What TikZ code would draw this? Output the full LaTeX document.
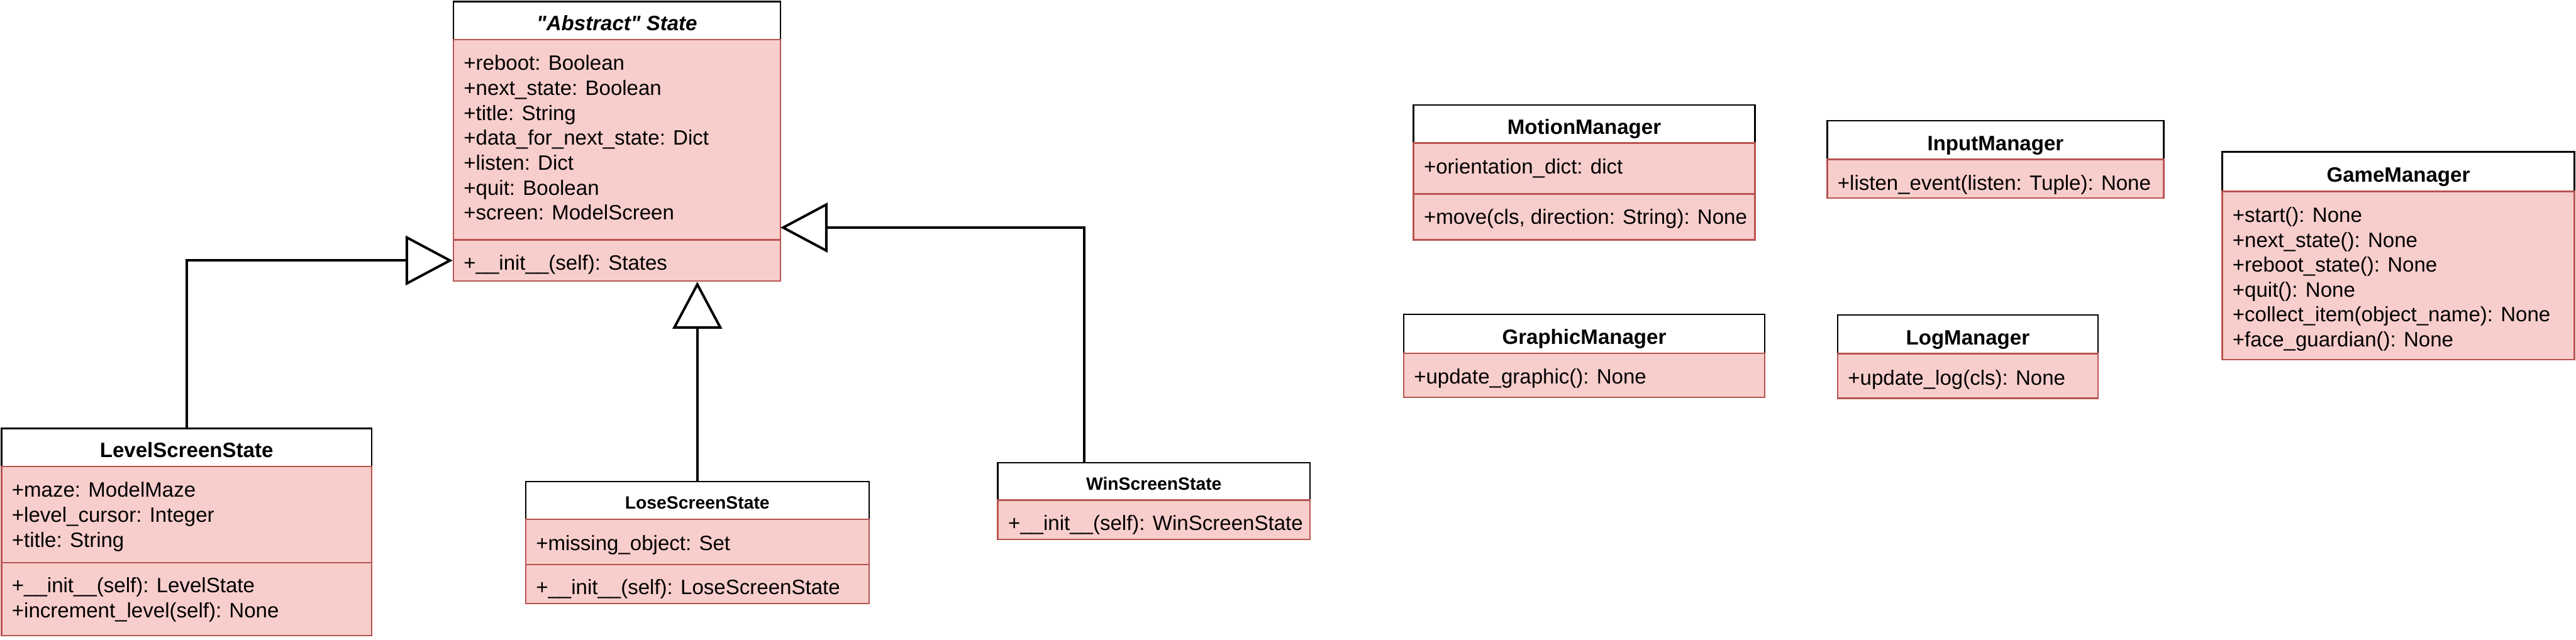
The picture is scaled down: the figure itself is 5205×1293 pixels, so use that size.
\documentclass[tikz,border=0pt]{standalone}
\usepackage{fontspec}
\setmainfont{Liberation Sans}[Ligatures=TeXOff]
\usetikzlibrary{arrows.meta,fit}
\definecolor{umlred}{HTML}{B85450}
\definecolor{umlpink}{HTML}{F8CECC}
\tikzset{
  hdr/.style={draw=black, fill=white, line width=0.6pt, inner sep=0pt},
  cmp/.style={draw=umlred, fill=umlpink, line width=0.6pt, inner sep=0pt},
  ttl/.style={font=\fontsize{8.4}{10.08}\selectfont\bfseries, anchor=base, inner sep=0pt},
  ttls/.style={font=\fontsize{7.2}{8.64}\selectfont\bfseries, anchor=base, inner sep=0pt},
  itm/.style={font=\fontsize{8.4}{10.08}\selectfont, anchor=base west, inner sep=0pt},
  gen/.style={line width=1pt, -{Triangle[open, length=19pt, width=20pt]}},
}
\begin{document}
\begin{tikzpicture}[x=0.2pt, y=-0.2pt]
\useasboundingbox (0,0) rectangle (5205,1293);

% ---------- "Abstract" State ----------
\node[hdr, fit={(916,3) (1577,80)}] (absH) {};
\node[cmp, fit={(916,80) (1577,485)}] (absA) {};
\node[cmp, fit={(916,485) (1577,568)}] (absM) {};
\node[ttl] (absT) at (1246.5,62) {\textit{"Abstract" State}};
\node[itm] (absA1) at (936,142) {+reboot: Boolean};
\node[itm] (absA2) at (936,192.4) {+next\_state: Boolean};
\node[itm] (absA3) at (936,242.8) {+title: String};
\node[itm] (absA4) at (936,293.2) {+data\_for\_next\_state: Dict};
\node[itm] (absA5) at (936,343.6) {+listen: Dict};
\node[itm] (absA6) at (936,394) {+quit: Boolean};
\node[itm] (absA7) at (936,444.4) {+screen: ModelScreen};
\node[itm] (absM1) at (936,546) {+\_\_init\_\_(self): States};

% ---------- LevelScreenState ----------
\node[hdr, fit={(3,866) (751,943)}] (lvlH) {};
\node[cmp, fit={(3,943) (751,1137)}] (lvlA) {};
\node[cmp, fit={(3,1137) (751,1285)}] (lvlM) {};
\node[ttl] (lvlT) at (377,925) {LevelScreenState};
\node[itm] (lvlA1) at (23,1005) {+maze: ModelMaze};
\node[itm] (lvlA2) at (23,1055.4) {+level\_cursor: Integer};
\node[itm] (lvlA3) at (23,1105.8) {+title: String};
\node[itm] (lvlM1) at (23,1198) {+\_\_init\_\_(self): LevelState};
\node[itm] (lvlM2) at (23,1248.4) {+increment\_level(self): None};

% ---------- LoseScreenState ----------
\node[hdr, fit={(1062,973) (1756,1050)}] (loseH) {};
\node[cmp, fit={(1062,1050) (1756,1141)}] (loseA) {};
\node[cmp, fit={(1062,1141) (1756,1220)}] (loseM) {};
\node[ttls] (loseT) at (1409,1028.5) {LoseScreenState};
\node[itm] (loseA1) at (1082,1112) {+missing\_object: Set};
\node[itm] (loseM1) at (1082,1201) {+\_\_init\_\_(self): LoseScreenState};

% ---------- WinScreenState ----------
\node[hdr, fit={(2016,935) (2647,1011)}] (winH) {};
\node[cmp, fit={(2016,1011) (2647,1090)}] (winM) {};
\node[ttls] (winT) at (2331.5,990) {WinScreenState};
\node[itm] (winM1) at (2036,1072) {+\_\_init\_\_(self): WinScreenState};

% ---------- MotionManager ----------
\node[hdr, fit={(2856,212) (3546,289)}] (motH) {};
\node[cmp, fit={(2856,289) (3546,392)}] (motA) {};
\node[cmp, fit={(2856,392) (3546,485)}] (motM) {};
\node[ttl] (motT) at (3201,271) {MotionManager};
\node[itm] (motA1) at (2876,351) {+orientation\_dict: dict};
\node[itm] (motM1) at (2876,453) {+move(cls, direction: String): None};

% ---------- InputManager ----------
\node[hdr, fit={(3692,244) (4372,322)}] (inH) {};
\node[cmp, fit={(3692,322) (4372,400)}] (inM) {};
\node[ttl] (inT) at (4032,304) {InputManager};
\node[itm] (inM1) at (3712,385) {+listen\_event(listen: Tuple): None};

% ---------- GraphicManager ----------
\node[hdr, fit={(2836,635) (3566,714)}] (grH) {};
\node[cmp, fit={(2836,714) (3566,803)}] (grM) {};
\node[ttl] (grT) at (3201,696) {GraphicManager};
\node[itm] (grM1) at (2856,776) {+update\_graphic(): None};

% ---------- LogManager ----------
\node[hdr, fit={(3713,637) (4239,715)}] (logH) {};
\node[cmp, fit={(3713,715) (4239,805)}] (logM) {};
\node[ttl] (logT) at (3976,697) {LogManager};
\node[itm] (logM1) at (3733,778) {+update\_log(cls): None};

% ---------- GameManager ----------
\node[hdr, fit={(4490,307) (5202,387)}] (gmH) {};
\node[cmp, fit={(4490,387) (5202,727)}] (gmM) {};
\node[ttl] (gmT) at (4846,368) {GameManager};
\node[itm] (gmM1) at (4510,449) {+start(): None};
\node[itm] (gmM2) at (4510,499.4) {+next\_state(): None};
\node[itm] (gmM3) at (4510,549.8) {+reboot\_state(): None};
\node[itm] (gmM4) at (4510,600.2) {+quit(): None};
\node[itm] (gmM5) at (4510,650.6) {+collect\_item(object\_name): None};
\node[itm] (gmM6) at (4510,701) {+face\_guardian(): None};

% ---------- generalisations ----------
\coordinate (winP) at (2191,935);
\coordinate (absP) at (1577,460);
\draw[gen] (lvlH.north) |- (absM.west);
\draw[gen] (loseH.north) -- (loseH.north |- absM.south);
\draw[gen] (winP) |- (absP);
\end{tikzpicture}
\end{document}
